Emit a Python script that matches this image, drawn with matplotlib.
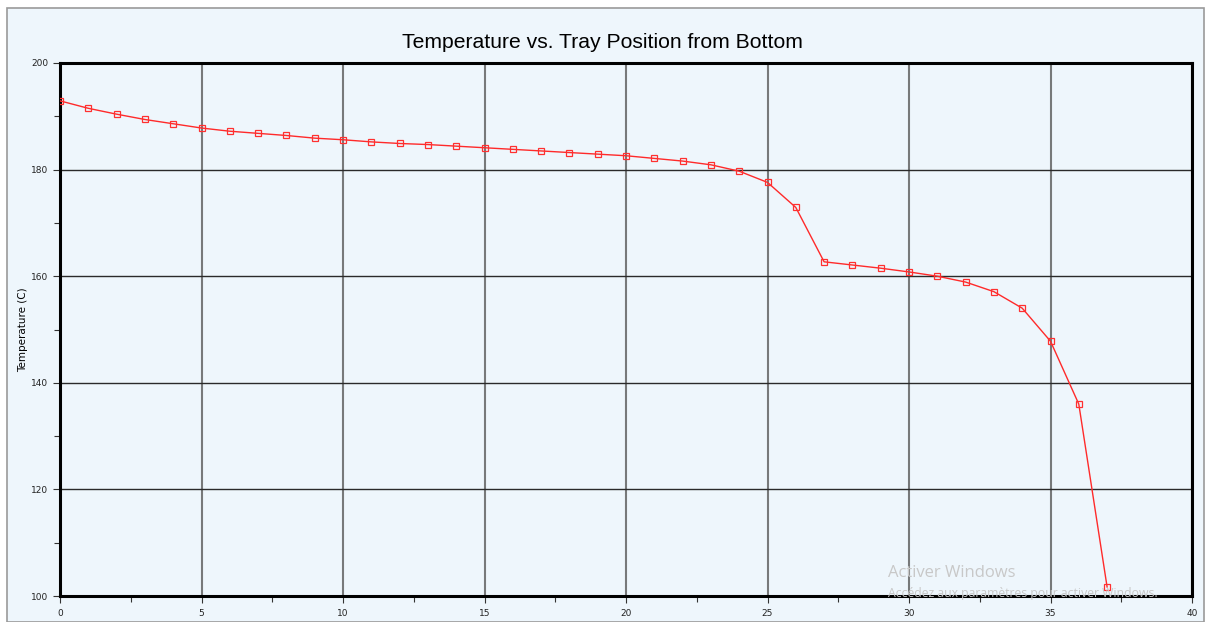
import matplotlib.pyplot as plt
from matplotlib.patches import Rectangle
from matplotlib.ticker import MultipleLocator

# Datos
tray = list(range(0, 38))
temperature = [192.9, 191.5, 190.4, 189.4, 188.6, 187.8, 187.2, 186.8, 186.4, 185.9,
               185.6, 185.2, 184.9, 184.7, 184.4, 184.1, 183.8, 183.5, 183.2, 182.9,
               182.6, 182.1, 181.6, 180.9, 179.7, 177.6, 172.9, 162.7, 162.1, 161.5,
               160.8, 160.0, 158.9, 157.1, 154.0, 147.8, 136.0, 101.7]

W, H = 1206, 622
fig = plt.figure(figsize=(W / 100, H / 100), dpi=100, facecolor='white')

# fondo azul claro con borde gris
fig.patches.append(Rectangle((7 / W, 0), (W - 9) / W, (H - 8) / H, transform=fig.transFigure,
                             facecolor='#eef6fc', edgecolor='#9a9a9a', linewidth=1.2, zorder=-10))

ax = fig.add_axes([60 / W, 1 - 596 / H, (1192 - 60) / W, (596 - 63) / H])
ax.set_facecolor('#eef6fc')

ax.plot(tray, temperature, color='#ff2a2a', linewidth=1.0, marker='s', markersize=4,
        markerfacecolor='none', markeredgecolor='#ff3030', markeredgewidth=0.9, zorder=3)

ax.set_xlim(0, 40)
ax.set_ylim(100, 200)
ax.xaxis.set_major_locator(MultipleLocator(5))
ax.xaxis.set_minor_locator(MultipleLocator(2.5))
ax.yaxis.set_major_locator(MultipleLocator(20))
ax.yaxis.set_minor_locator(MultipleLocator(10))

ax.grid(True, axis='x', which='major', color='#5a5a5a', linewidth=1.5, alpha=0.8)
ax.grid(True, axis='y', which='major', color='#2a2a2a', linewidth=1.0)
ax.set_axisbelow(True)

for s in ax.spines.values():
    s.set_linewidth(2.2)
    s.set_color('black')

ax.tick_params(which='both', direction='out', colors='#333333', labelsize=6.5,
               labelcolor='#222222', width=0.8)
ax.tick_params(which='major', length=5)
ax.tick_params(which='minor', length=4)
ax.tick_params(axis='x', pad=4)

fig.text(23 / W, 1 - 330 / H, 'Temperature (C)', rotation=90, fontsize=7.5,
         ha='center', va='center')
fig.text(602 / W, 1 - 43 / H, 'Temperature vs. Tray Position from Bottom',
         ha='center', va='center', fontsize=15.2, family='Liberation Sans')

# marca de agua de Windows
fig.text(888 / W, 1 - 573 / H, 'Activer Windows', fontsize=12, color='#c8c8c8',
         ha='left', va='center', family='Open Sans')
fig.text(888 / W, 1 - 593 / H, 'Accédez aux paramètres pour activer Windows.', fontsize=8.8,
         color='#c8c8c8', ha='left', va='center', family='Open Sans')

fig.savefig('out.png', dpi=100, facecolor=fig.get_facecolor())
